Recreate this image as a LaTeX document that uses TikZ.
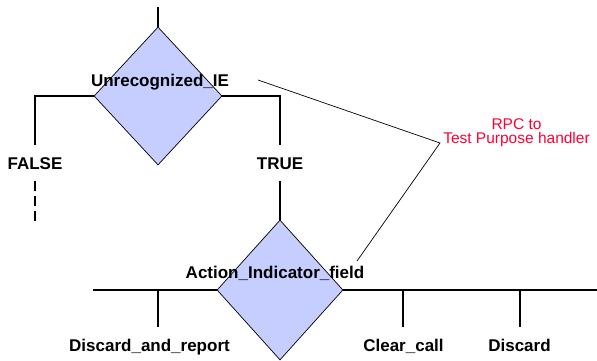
\documentclass[tikz,border=0pt]{standalone}
\usepackage{fontspec}
\setmainfont{Liberation Sans}
\usetikzlibrary{shapes.geometric}

\definecolor{decisionfill}{RGB}{198,206,255}
\definecolor{rpcred}{RGB}{255,0,51}

\begin{document}
\begin{tikzpicture}[x=1pt,y=1pt,thick,line width=1.6pt,
    decision/.style={diamond,draw,line width=0.7pt,fill=decisionfill,
      inner sep=0pt,minimum width=128pt,minimum height=138pt},
    question/.style={font=\bfseries\fontsize{17}{17}\selectfont,inner sep=0pt},
    branch label/.style={font=\bfseries\fontsize{17}{17}\selectfont,inner sep=0pt,
      text height=12pt,text depth=0pt,outer ysep=12pt},
    rpc note/.style={font=\fontsize{15.5}{14}\selectfont,text=rpcred,
      align=center,inner sep=0pt}]
  \useasboundingbox (0,0) rectangle (597,360);

    \node[decision] (UIE) at (158,264) {};
    \node[question] (UIEtxt) [node distance=14pt, above of=UIE, xshift=2pt] {Unrecognized\_IE};
    \node[branch label] (FALSE) at (35,197) {FALSE};
    \node[branch label] (TRUE) at (280,197) {TRUE};
    \node[decision, minimum width=126pt, minimum height=140pt] (AIF) [node distance=127pt, below of=TRUE] {};
    \node[question] (AIFtxt) [node distance=17pt, above of=AIF, xshift=-5pt] {Action\_Indicator\_field};
    \node[branch label] (DAR) at (149.5,15) {Discard\_and\_report};
    \node[branch label] (CC) at (403.5,15) {Clear\_call};
    \node[branch label] (DIS) at (519.5,15) {Discard};
    \node[rpc note] (RPC) at (516.5,227.5) {RPC to\\Test Purpose handler};

    \coordinate (entry) at (158,353);
    \coordinate (falseend) at (35,135);
    \coordinate (busL) at (93,70);
    \coordinate (busR) at (597,70);
    \coordinate (dartap) at (158,70);
    \coordinate (cctap) at (403,70);
    \coordinate (distap) at (520,70);
    \coordinate (rpc) at (440,217);
    \coordinate (rpcA) at (258,280);
    \coordinate (rpcB) at (357,99);

  % flow
    \draw (entry) -- (UIE.north);
    \draw (UIE.west) -| (FALSE.north);
    \draw (UIE.east) -| (TRUE.north);
    \draw[dash pattern=on 10pt off 5pt] (FALSE.south) -- (falseend);
    \draw (TRUE.south) -- (AIF.north);
    \draw (busL) -- (AIF.west);
    \draw (AIF.east) -- (busR);
    \draw (dartap) -- (dartap |- DAR.north);
    \draw (cctap) -- (cctap |- CC.north);
    \draw (distap) -- (distap |- DIS.north);

  % test purpose handler
    \draw[line width=0.7pt] (rpcA) -- (rpc) -- (rpcB);
  \end{tikzpicture}
\end{document}
